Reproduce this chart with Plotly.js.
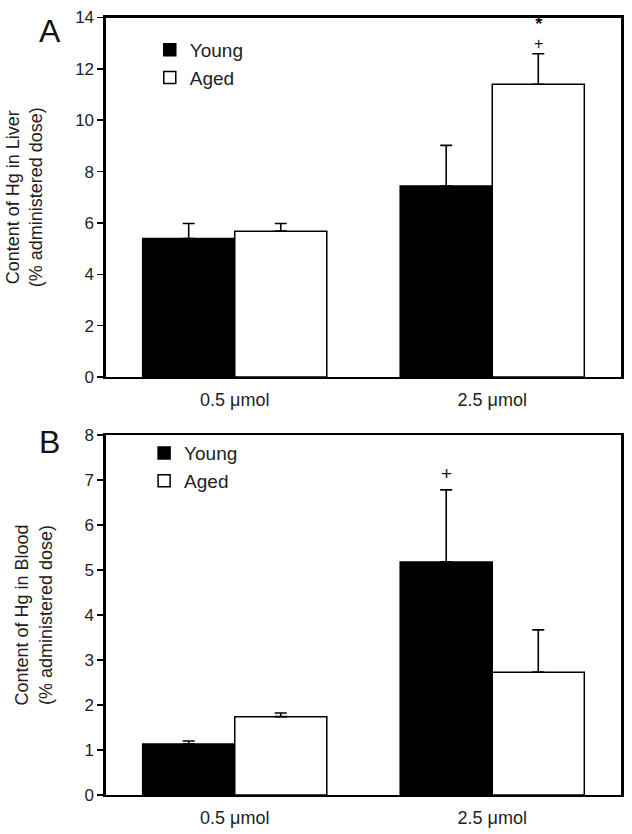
<!DOCTYPE html>
<html>
<head>
<meta charset="utf-8">
<script src="https://cdn.plot.ly/plotly-3.0.1.min.js"></script>
<style>html,body{margin:0;padding:0;background:#fff;}#chart{width:632px;height:834px;}</style>
</head>
<body>
<div id="chart"></div>
<script>
// ---- data ----
const doses = ['0.5 μmol', '2.5 μmol'];
const groups = ['Young', 'Aged'];
const liverYoung = [5.39, 7.44];
const liverYoungSE = [0.59, 1.58];
const liverAged = [5.68, 11.4];
const liverAgedSE = [0.30, 1.19];
const bloodYoung = [1.13, 5.18];
const bloodYoungSE = [0.07, 1.60];
const bloodAged = [1.74, 2.73];
const bloodAgedSE = [0.08, 0.94];
const liverTicks = [0, 2, 4, 6, 8, 10, 12, 14];
const bloodTicks = [0, 1, 2, 3, 4, 5, 6, 7, 8];

const FONT = 'Liberation Sans, Arial, Helvetica, sans-serif';
const zeros = a => a.map(() => 0);

function barTrace(name, y, se, fill, xa, ya, legend) {
  return {
    type: 'bar', name: name, x: doses, y: y,
    xaxis: xa, yaxis: ya, legend: legend, showlegend: true,
    marker: {color: fill, line: {color: '#000', width: 1.5}},
    error_y: {type: 'data', symmetric: false, array: se, arrayminus: zeros(se),
              color: '#000', thickness: 1.6, width: 6},
    hoverinfo: 'skip'
  };
}

const data = [
  barTrace(groups[0], liverYoung, liverYoungSE, '#000', 'x', 'y', 'legend'),
  barTrace(groups[1], liverAged, liverAgedSE, '#fff', 'x', 'y', 'legend'),
  barTrace(groups[0], bloodYoung, bloodYoungSE, '#000', 'x2', 'y2', 'legend2'),
  barTrace(groups[1], bloodAged, bloodAgedSE, '#fff', 'x2', 'y2', 'legend2')
];

const xcommon = {
  showline: true, linewidth: 2.5, linecolor: '#000', mirror: true,
  ticks: '', showgrid: false, zeroline: false, fixedrange: true,
  tickfont: {family: FONT, size: 18, color: '#222'}, ticklabelstandoff: 5
};
const ycommon = {
  showline: true, linewidth: 2.5, linecolor: '#000', mirror: true,
  ticks: 'outside', ticklen: 6, tickwidth: 1.5, tickcolor: '#000',
  showgrid: false, zeroline: false, fixedrange: true,
  tickfont: {family: FONT, size: 17, color: '#222'}
};

const XD = [0.1677, 0.9826];
const layout = {
  width: 632, height: 834,
  margin: {l: 0, r: 0, t: 0, b: 0},
  paper_bgcolor: '#fff', plot_bgcolor: '#fff',
  barmode: 'group', bargap: 0.285, bargroupgap: 0,
  font: {family: FONT, color: '#222'},
  xaxis: Object.assign({}, xcommon, {domain: XD, anchor: 'y'}),
  yaxis: Object.assign({}, ycommon, {domain: [0.548, 0.979], anchor: 'x',
    range: [0, 14], tickvals: liverTicks,
    title: {text: 'Content of Hg in Liver<br>(% administered dose)', standoff: 28,
            font: {family: FONT, size: 18, color: '#222'}}}),
  xaxis2: Object.assign({}, xcommon, {domain: XD, anchor: 'y2'}),
  yaxis2: Object.assign({}, ycommon, {domain: [0.0468, 0.4784], anchor: 'x2',
    range: [0, 8], tickvals: bloodTicks,
    title: {text: 'Content of Hg in Blood<br>(% administered dose)', standoff: 28,
            font: {family: FONT, size: 18, color: '#222'}}}),
  legend: {x: 0.237, y: 0.963, xanchor: 'left', yanchor: 'top', bgcolor: 'rgba(0,0,0,0)',
           font: {family: FONT, size: 19, color: '#222'}, tracegroupgap: 0, traceorder: 'normal'},
  legend2: {x: 0.228, y: 0.4795, xanchor: 'left', yanchor: 'top', bgcolor: 'rgba(0,0,0,0)',
           font: {family: FONT, size: 19, color: '#222'}, tracegroupgap: 0, traceorder: 'normal'},
  annotations: [
    {text: 'A', xref: 'paper', yref: 'paper', x: 0.058, y: 0.987, xanchor: 'left', yanchor: 'top',
     showarrow: false, font: {family: FONT, size: 32, color: '#111'}},
    {text: 'B', xref: 'paper', yref: 'paper', x: 0.058, y: 0.494, xanchor: 'left', yanchor: 'top',
     showarrow: false, font: {family: FONT, size: 32, color: '#111'}},
    {text: '<b style="font-size:18px">*</b><br><span style="font-size:16px">+</span>',
     xref: 'x', yref: 'y', x: doses[1], y: liverAged[1] + liverAgedSE[1],
     xshift: 46, yshift: 0, yanchor: 'bottom',
     showarrow: false, font: {family: FONT, size: 14.5, color: '#111'}},
    {text: '+', xref: 'x2', yref: 'y2', x: doses[1], y: bloodYoung[1] + bloodYoungSE[1], xshift: -46, yshift: 16,
     showarrow: false, font: {family: FONT, size: 19, color: '#111'}}
  ]
};

Plotly.newPlot('chart', data, layout, {staticPlot: true, displayModeBar: false});
</script>
</body>
</html>
